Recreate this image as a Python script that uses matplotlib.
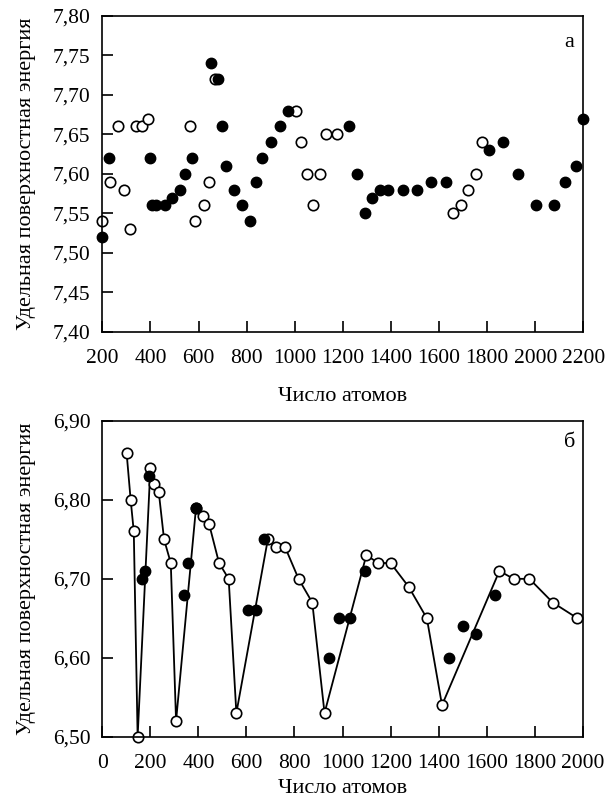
import matplotlib
import matplotlib.pyplot as plt

matplotlib.use("Agg")
plt.rcParams['font.family'] = ['Liberation Serif', 'DejaVu Serif']

# --- panel а: filled / open points
a_filled_x = [200, 229, 399, 407, 424, 462, 490, 521, 544, 574, 651, 683, 696, 714,
              749, 781, 812, 838, 865, 900, 937, 974, 1226, 1261, 1293, 1323, 1355,
              1389, 1449, 1509, 1568, 1629, 1808, 1866, 1927, 2003, 2078, 2125, 2171, 2200]
a_filled_y = [7.52, 7.62, 7.62, 7.56, 7.56, 7.56, 7.57, 7.58, 7.60, 7.62, 7.74, 7.72, 7.66, 7.61,
              7.58, 7.56, 7.54, 7.59, 7.62, 7.64, 7.66, 7.68, 7.66, 7.60, 7.55, 7.57, 7.58,
              7.58, 7.58, 7.58, 7.59, 7.59, 7.63, 7.64, 7.60, 7.56, 7.56, 7.59, 7.61, 7.67]
a_open_x = [200, 232, 264, 289, 317, 342, 367, 389, 565, 587, 621, 644, 668,
            1006, 1025, 1051, 1078, 1104, 1131, 1176, 1658, 1691, 1722, 1754, 1780]
a_open_y = [7.54, 7.59, 7.66, 7.58, 7.53, 7.66, 7.66, 7.67, 7.66, 7.54, 7.56, 7.59, 7.72,
            7.68, 7.64, 7.60, 7.56, 7.60, 7.65, 7.65, 7.55, 7.56, 7.58, 7.60, 7.64]

# --- panel б: open points joined by line, filled points separate
b_open_x = [101, 118, 131, 147, 200, 217, 235, 257, 285, 307, 390, 421, 444, 486, 526,
            558, 689, 722, 761, 817, 874, 925, 1099, 1149, 1200, 1275, 1351, 1414,
            1653, 1712, 1778, 1875, 1978]
b_open_y = [6.86, 6.80, 6.76, 6.50, 6.84, 6.82, 6.81, 6.75, 6.72, 6.52, 6.79, 6.78, 6.77, 6.72, 6.70,
            6.53, 6.75, 6.74, 6.74, 6.70, 6.67, 6.53, 6.73, 6.72, 6.72, 6.69, 6.65, 6.54,
            6.71, 6.70, 6.70, 6.67, 6.65]
b_filled_x = [164, 178, 193, 339, 356, 390, 606, 639, 672, 944, 986, 1032, 1093,
              1442, 1500, 1554, 1636]
b_filled_y = [6.70, 6.71, 6.83, 6.68, 6.72, 6.79, 6.66, 6.66, 6.75, 6.60, 6.65, 6.65, 6.71,
              6.60, 6.64, 6.63, 6.68]

ylabel = 'Удельная поверхностная энергия'
xlabel = 'Число атомов'

fig = plt.figure(figsize=(6.13, 8), dpi=100)
ax1 = fig.add_axes([0.1669, 0.5854, 0.7847, 0.3946])
ax2 = fig.add_axes([0.1669, 0.0791, 0.7838, 0.3947])

ms = 7.5


def style(ax, xpad):
    for s in ax.spines.values():
        s.set_linewidth(1.2)
    ax.tick_params(direction='in', length=8, width=1.2, labelsize=15.5,
                   top=False, right=False)
    ax.tick_params(axis='y', pad=8.5)
    ax.tick_params(axis='x', pad=12.5)
    ax.set_ylabel(ylabel, fontsize=16, labelpad=12)
    ax.set_xlabel(xlabel, fontsize=16, labelpad=xpad)


ax1.plot(a_open_x, a_open_y, 'o', ms=ms, mfc='white', mec='black', mew=1.2, clip_on=False)
ax1.plot(a_filled_x, a_filled_y, 'o', ms=ms, mfc='black', mec='black', clip_on=False)
ax1.set_xlim(200, 2200)
ax1.set_ylim(7.40, 7.80)
ax1.set_xticks(range(200, 2201, 200))
ax1.set_yticks([7.40 + 0.05 * i for i in range(9)])
ax1.set_yticklabels([f'{7.40 + 0.05 * i:.2f}'.replace('.', ',') for i in range(9)])
ax1.text(0.970, 0.903, 'а', transform=ax1.transAxes, fontsize=16, ha='center', va='baseline')
style(ax1, 14)

ax2.plot(b_open_x, b_open_y, '-o', color='black', lw=1.3, ms=ms, mfc='white', mec='black',
         mew=1.2, clip_on=False)
ax2.plot(b_filled_x, b_filled_y, 'o', ms=ms, mfc='black', mec='black', clip_on=False)
ax2.set_xlim(0, 2000)
ax2.set_ylim(6.50, 6.90)
ax2.set_xticks(range(0, 2001, 200))
ax2.set_yticks([6.50 + 0.10 * i for i in range(5)])
ax2.set_yticklabels([f'{6.50 + 0.10 * i:.2f}'.replace('.', ',') for i in range(5)])
ax2.text(0.973, 0.919, 'б', transform=ax2.transAxes, fontsize=16, ha='center', va='baseline')
style(ax2, 4)

fig.savefig('out.png', dpi=100)
